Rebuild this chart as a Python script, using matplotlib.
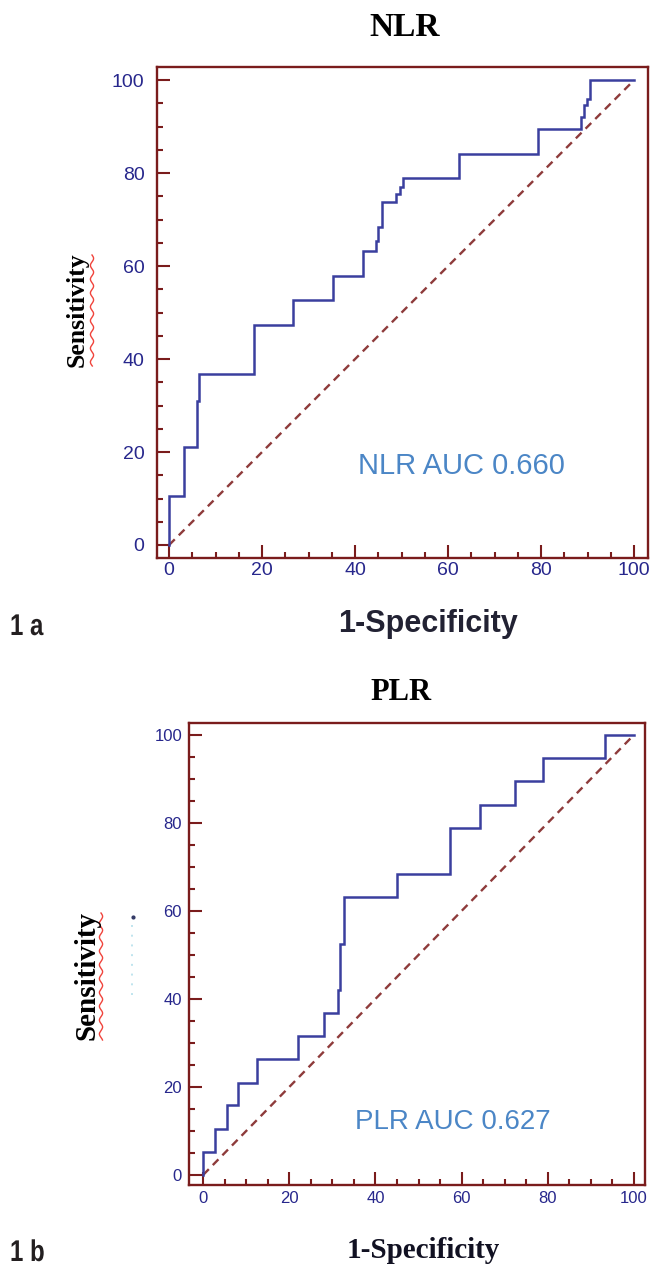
"""ROC curves for NLR (1a) and PLR (1b), redrawn as a two-panel figure."""
import numpy as np
import matplotlib
matplotlib.use("Agg")
import matplotlib.pyplot as plt
from matplotlib.lines import Line2D
from matplotlib.patches import PathPatch
from matplotlib.textpath import TextPath
from matplotlib.font_manager import FontProperties
from matplotlib.transforms import Affine2D, IdentityTransform
from matplotlib.ticker import MultipleLocator

W, H = 652, 1272
DPI = 100

SPINE = "#7a1c1c"
CURVE = "#3a3f9e"
DIAG = "#8e3b3b"
TICKLBL = "#27278c"
AUC_C = "#4b86c6"
SERIF = ["Liberation Serif", "DejaVu Serif"]
SANS = ["Liberation Sans", "DejaVu Sans"]

# step vertices (1-specificity %, sensitivity %)
nlr_fpr = [0, 0, 3.3, 3.3, 5.9, 5.9, 6.5, 6.5, 18.3, 18.3, 26.7, 26.7,
           35.2, 35.2, 41.6, 41.6, 44.4, 44.4, 44.9, 44.9, 45.7, 45.7,
           48.8, 48.8, 49.6, 49.6, 50.4, 50.4, 62.4, 62.4, 79.4, 79.4,
           88.6, 88.6, 89.2, 89.2, 89.8, 89.8, 90.5, 90.5, 100]
nlr_tpr = [0, 10.5, 10.5, 21.0, 21.0, 31.0, 31.0, 36.8, 36.8, 47.4, 47.4,
           52.6, 52.6, 57.9, 57.9, 63.2, 63.2, 65.5, 65.5, 68.4, 68.4,
           73.7, 73.7, 75.5, 75.5, 77.0, 77.0, 78.9, 78.9, 84.2, 84.2,
           89.5, 89.5, 92.0, 92.0, 94.7, 94.7, 96.0, 96.0, 100, 100]

plr_fpr = [0, 0, 2.7, 2.7, 5.6, 5.6, 8.0, 8.0, 12.4, 12.4, 21.9, 21.9,
           28.1, 28.1, 31.2, 31.2, 31.8, 31.8, 32.6, 32.6, 45.0, 45.0,
           57.2, 57.2, 64.3, 64.3, 72.3, 72.3, 78.9, 78.9, 93.2, 93.2, 100]
plr_tpr = [0, 5.3, 5.3, 10.5, 10.5, 15.8, 15.8, 21.0, 21.0, 26.3, 26.3,
           31.6, 31.6, 36.8, 36.8, 42.1, 42.1, 52.6, 52.6, 63.2, 63.2,
           68.4, 68.4, 78.9, 78.9, 84.2, 84.2, 89.5, 89.5, 94.7, 94.7,
           100, 100]

ticks = [0, 20, 40, 60, 80, 100]

fig = plt.figure(figsize=(W / DPI, H / DPI), dpi=DPI)
fig.patch.set_facecolor("white")


def px(x, y):
    """pixel position -> figure fraction"""
    return x / W, 1 - y / H


def roc_panel(rect, xlim, ylim, fpr, tpr, auc_txt, auc_xy, auc_size,
              lbl_size, ypad, xpad):
    ax = fig.add_axes(rect)
    ax.plot([0, 100], [0, 100], color=DIAG, lw=1.7, dashes=(3.4, 2.4))
    ax.plot(fpr, tpr, color=CURVE, lw=1.8, solid_joinstyle="miter")
    ax.set_xlim(*xlim)
    ax.set_ylim(*ylim)
    ax.set_xticks(ticks)
    ax.set_yticks(ticks)
    ax.xaxis.set_minor_locator(MultipleLocator(5))
    ax.yaxis.set_minor_locator(MultipleLocator(5))
    for s in ax.spines.values():
        s.set_color(SPINE)
        s.set_linewidth(1.7)
    ax.tick_params(which="both", direction="in", color=SPINE, width=1.5,
                   top=False, right=False)
    ax.tick_params(which="major", length=9.5, labelcolor=TICKLBL,
                   labelsize=lbl_size)
    ax.tick_params(which="minor", length=4.5)
    ax.tick_params(axis="y", which="major", pad=ypad)
    ax.tick_params(axis="x", which="major", pad=xpad)
    for t in ax.get_xticklabels() + ax.get_yticklabels():
        t.set_family(SANS)
    ax.text(auc_xy[0], auc_xy[1], auc_txt, color=AUC_C, fontsize=auc_size,
            family=SANS, va="center", ha="left")
    return ax


def wavy(x, y0, y1):
    """red spell-check squiggle beside a rotated label (pixel coords)"""
    yy = np.linspace(y0, y1, 200)
    xx = x + 1.6 * np.sin((yy - y0) / 2.2)
    fx, fy = px(xx, yy)
    fig.add_artist(Line2D(fx, fy, color="#f0443c", lw=1.0))


def panel_tag(s, x, baseline):
    """condensed bold panel tag; x / baseline in pixels from top-left"""
    tp = TextPath((0, 0), s, size=30,
                  prop=FontProperties(family=SANS, weight="bold"))
    tr = Affine2D().scale(0.80, 1.0).translate(x, H - baseline)
    fig.add_artist(PathPatch(tr.transform_path(tp), fc="#231f20", ec="none",
                             transform=IdentityTransform()))


# ---- 1a: NLR ----
roc_panel([157 / W, 1 - 558 / H, 491 / W, 491.3 / H],
          (-2.6, 103.0), (-2.8, 102.9), nlr_fpr, nlr_tpr,
          "NLR AUC 0.660", (40.7, 17.0), 21, 14, 9, 3)
fig.text(*px(405, 27), "NLR", family=SERIF, weight="bold", fontsize=24,
         ha="center", va="center")
fig.text(*px(428, 624), "1-Specificity", family=SANS, weight="bold",
         fontsize=22, color="#222233", ha="center", va="center")
fig.text(*px(77, 310), "Sensitivity", family=SERIF, weight="bold",
         fontsize=18.5, rotation=90, ha="center", va="center")
wavy(92, 255, 366)
panel_tag("1 a", 10, 635)

# ---- 1b: PLR ----
roc_panel([189 / W, 1 - 1185 / H, 456 / W, 462.3 / H],
          (-3.3, 102.6), (-2.3, 102.8), plr_fpr, plr_tpr,
          "PLR AUC 0.627", (35.3, 12.0), 20, 12, 5, 4)
fig.text(*px(401, 692), "PLR", family=SERIF, weight="bold", fontsize=22,
         ha="center", va="center")
fig.text(*px(423, 1250), "1-Specificity", family=SERIF, weight="bold",
         fontsize=21, color="#111122", ha="center", va="center")
fig.text(*px(87, 976), "Sensitivity", family=SERIF, weight="bold",
         fontsize=21, rotation=90, ha="center", va="center")
wavy(101, 913, 1040)
fig.add_artist(Line2D(*px(np.array([132, 132]), np.array([925, 995])),
                      color="#bfe4ee", lw=1.4, linestyle=(0, (1, 4))))
fig.add_artist(Line2D(*px(np.array([132.5]), np.array([917])),
                      color="#333a66", marker="o", ms=2, lw=0))
panel_tag("1 b", 10, 1261)

fig.savefig("out.png", dpi=DPI, facecolor="white")
